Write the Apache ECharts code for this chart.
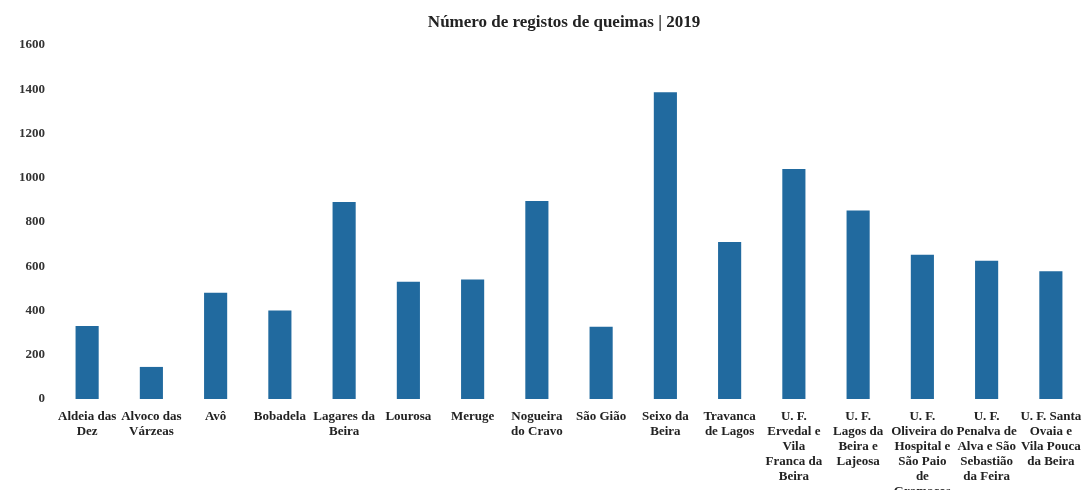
<!DOCTYPE html>
<html><head><meta charset="utf-8">
<script src="https://cdn.jsdelivr.net/npm/echarts@6/dist/echarts.min.js"></script>
<style>html,body{margin:0;padding:0;background:#fff}#c{width:1089px;height:490px}</style>
</head><body><div id="c"></div>
<script>
var categories = ["Aldeia das Dez","Alvoco das Várzeas","Avô","Bobadela","Lagares da Beira","Lourosa","Meruge","Nogueira do Cravo","São Gião","Seixo da Beira","Travanca de Lagos","U. F. Ervedal e Vila Franca da Beira","U. F. Lagos da Beira e Lajeosa","U. F. Oliveira do Hospital e São Paio de Gramaços","U. F. Penalva de Alva e São Sebastião da Feira","U. F. Santa Ovaia e Vila Pouca da Beira"];
var labelLines = ["Aldeia das\nDez","Alvoco das\nVárzeas","Avô","Bobadela","Lagares da\nBeira","Lourosa","Meruge","Nogueira\ndo Cravo","São Gião","Seixo da\nBeira","Travanca\nde Lagos","U. F.\nErvedal e\nVila\nFranca da\nBeira","U. F.\nLagos da\nBeira e\nLajeosa","U. F.\nOliveira do\nHospital e\nSão Paio\nde\nGramaços","U. F.\nPenalva de\nAlva e São\nSebastião\nda Feira","U. F. Santa\nOvaia e\nVila Pouca\nda Beira"];
var values = [330,145,480,400,890,530,540,895,326,1386,710,1040,852,652,625,577];
var yTicks = [0,200,400,600,800,1000,1200,1400,1600];

var chart = echarts.init(document.getElementById('c'));
var font = '"Liberation Serif", "DejaVu Serif", serif';
chart.setOption({
  animation: false,
  title: {
    text: 'Número de registos de queimas | 2019',
    left: 559, top: 9, textAlign: 'center',
    textStyle: {fontFamily: font, fontSize: 17, fontWeight: 'bold', color: '#222'}
  },
  grid: {left: 55, right: 6, top: 45, bottom: 91, outerBoundsMode: 'none', containLabel: false},
  xAxis: {
    type: 'category',
    data: categories,
    axisLine: {show: false}, axisTick: {show: false},
    axisLabel: {
      interval: 0, margin: 10,
      formatter: function(v, i){ return labelLines[i]; },
      fontFamily: font, fontSize: 13, fontWeight: 'bold', color: '#222', lineHeight: 15
    }
  },
  yAxis: {
    type: 'value', min: yTicks[0], max: yTicks[yTicks.length-1], interval: 200,
    splitLine: {show: false}, axisLine: {show: false}, axisTick: {show: false},
    axisLabel: {fontFamily: font, fontSize: 13, fontWeight: 'bold', color: '#333', margin: 10,
      formatter: function(v){ return String(v); }}
  },
  series: [{
    type: 'bar', data: values, barWidth: '36%',
    itemStyle: {color: '#216a9f'}
  }]
});
</script></body></html>
